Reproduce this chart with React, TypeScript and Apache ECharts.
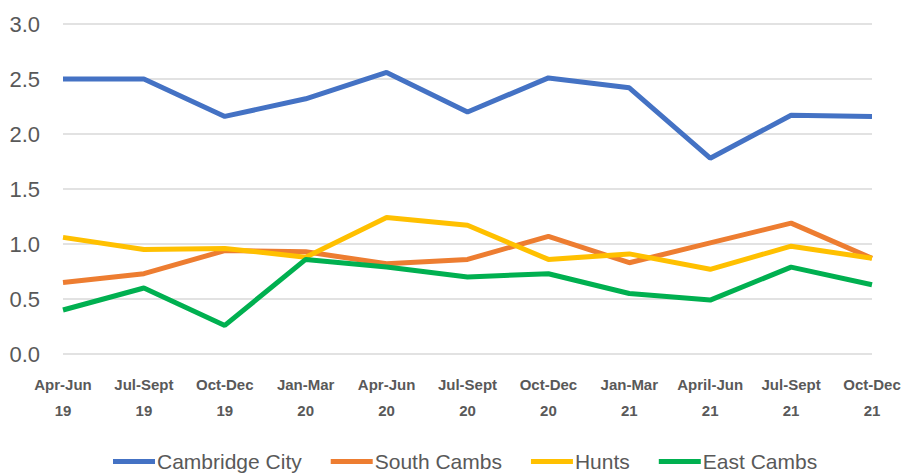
import React, { useEffect, useRef } from "react";
import * as echarts from "echarts";

const categories = [
  "Apr-Jun\n19", "Jul-Sept\n19", "Oct-Dec\n19", "Jan-Mar\n20", "Apr-Jun\n20", "Jul-Sept\n20",
  "Oct-Dec\n20", "Jan-Mar\n21", "April-Jun\n21", "Jul-Sept\n21", "Oct-Dec\n21",
];
const cambridgeCity = [2.5, 2.5, 2.16, 2.32, 2.56, 2.2, 2.51, 2.42, 1.78, 2.17, 2.16];
const southCambs = [0.65, 0.73, 0.94, 0.93, 0.82, 0.86, 1.07, 0.83, 1.01, 1.19, 0.87];
const hunts = [1.06, 0.95, 0.96, 0.88, 1.24, 1.17, 0.86, 0.91, 0.77, 0.98, 0.87];
const eastCambs = [0.4, 0.6, 0.26, 0.86, 0.79, 0.7, 0.73, 0.55, 0.49, 0.79, 0.63];

const seriesNames = ["Cambridge City", "South Cambs", "Hunts", "East Cambs"];
const colors = ["#4472C4", "#ED7D31", "#FFC000", "#00B050"];

export default function App() {
  const ref = useRef<HTMLDivElement>(null);
  useEffect(() => {
    if (!ref.current) return;
    const chart = echarts.init(ref.current, null, { renderer: "svg" });
    const font = "'Liberation Sans', Arial, sans-serif";
    const data = [cambridgeCity, southCambs, hunts, eastCambs];
    chart.setOption({
      animation: false,
      backgroundColor: "#ffffff",
      grid: { left: 63, right: 29, top: 24, bottom: 120, outerBoundsMode: "none", containLabel: false },
      legend: {
        bottom: -3,
        left: 108,
        icon: "rect",
        itemWidth: 42,
        itemHeight: 5,
        itemGap: 29,
        data: seriesNames,
        textStyle: { fontFamily: font, fontSize: 21, color: "#595959", padding: [0, 0, 0, -3] },
      },
      xAxis: {
        type: "category",
        data: categories,
        boundaryGap: false,
        axisLine: { show: false },
        axisTick: { show: false },
        axisLabel: {
          interval: 0,
          margin: 17,
          fontFamily: font,
          fontWeight: "bold",
          fontSize: 15,
          lineHeight: 26,
          color: "#595959",
        },
      },
      yAxis: {
        type: "value",
        min: 0,
        max: 3,
        interval: 0.5,
        axisLine: { show: false },
        axisTick: { show: false },
        axisLabel: {
          margin: 23,
          fontFamily: font,
          fontSize: 22,
          color: "#595959",
          formatter: (v: number) => v.toFixed(1),
        },
        splitLine: { lineStyle: { color: "#d9d9d9", width: 1.5 } },
      },
      series: seriesNames.map((name, i) => ({
        name,
        type: "line",
        data: data[i],
        symbol: "none",
        lineStyle: { color: colors[i], width: 5 },
        itemStyle: { color: colors[i] },
      })),
    });
    return () => chart.dispose();
  }, []);
  return <div ref={ref} style={{ width: 901, height: 474, position: "absolute", left: 0, top: 0 }} />;
}
